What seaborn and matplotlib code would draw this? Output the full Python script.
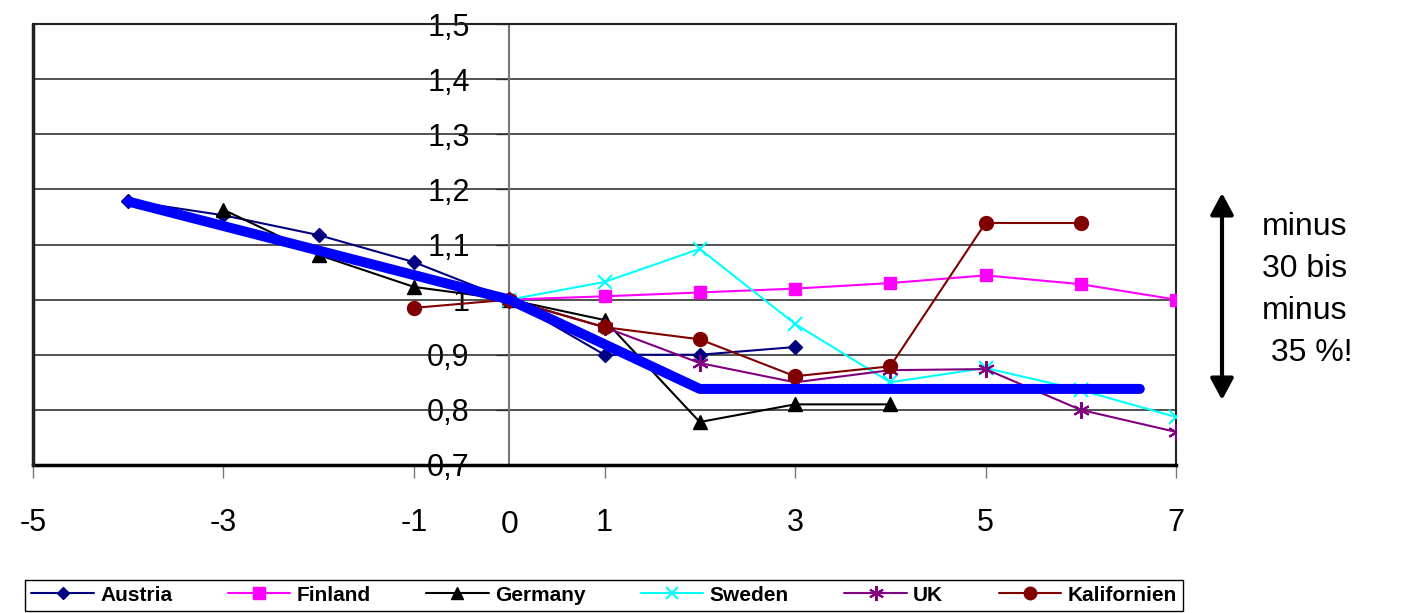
import matplotlib
matplotlib.use('Agg')
import matplotlib.pyplot as plt
import seaborn as sns
import numpy as np
import pandas as pd
from matplotlib.lines import Line2D
from matplotlib.transforms import blended_transform_factory

# ---- data ----
years_austria = [-4, -3, -2, -1, 0, 1, 2, 3]
austria = [1.179, 1.153, 1.117, 1.068, 1.0, 0.900, 0.900, 0.914]
years_finland = [0, 1, 2, 3, 4, 5, 6, 7]
finland = [1.0, 1.006, 1.013, 1.020, 1.030, 1.044, 1.028, 1.0]
years_germany = [-3, -2, -1, 0, 1, 2, 3, 4]
germany = [1.163, 1.081, 1.023, 1.0, 0.963, 0.778, 0.810, 0.810]
years_sweden = [0, 1, 2, 3, 4, 5, 6, 7]
sweden = [1.0, 1.032, 1.092, 0.956, 0.850, 0.876, 0.836, 0.787]
years_uk = [0, 1, 2, 3, 4, 5, 6, 7]
uk = [1.0, 0.950, 0.885, 0.850, 0.872, 0.874, 0.800, 0.760]
years_kal = [-1, 0, 1, 2, 3, 4, 5, 6]
kalifornien = [0.985, 1.0, 0.950, 0.928, 0.861, 0.879, 1.139, 1.139]
trend_x = [-4, 0, 2, 6.62]
trend_y = [1.178, 1.0, 0.838, 0.838]

series_names = ["Austria", "Finland", "Germany", "Sweden", "UK", "Kalifornien"]
x_ticks = [-5, -3, -1, 1, 3, 5, 7]
x_tick_labels = ["-5", "-3", "-1", "1", "3", "5", "7"]
y_ticks = [0.7, 0.8, 0.9, 1.0, 1.1, 1.2, 1.3, 1.4, 1.5]
y_tick_labels = ["0,7", "0,8", "0,9", "1", "1,1", "1,2", "1,3", "1,4", "1,5"]
note_text = "minus\n30 bis\nminus\n 35 %!"

sns.set_theme(style="white")
plt.rcParams['font.family'] = ['Liberation Sans', 'DejaVu Sans']
plt.rcParams['text.color'] = 'black'
plt.rcParams['xtick.color'] = 'black'
plt.rcParams['ytick.color'] = 'black'
plt.rcParams['xtick.labelcolor'] = 'black'
plt.rcParams['ytick.labelcolor'] = 'black'

W, H = 1401, 613
fig = plt.figure(figsize=(W / 100, H / 100), dpi=100)
ax = fig.add_axes([33 / W, 1 - 465 / H, (1176 - 33) / W, (465 - 24) / H])

styles = [
    dict(color="#000080", marker="D", markersize=7),
    dict(color="#FF00FF", marker="s", markersize=9),
    dict(color="#000000", marker="^", markersize=10),
    dict(color="#00FFFF", marker="x", markersize=10, markeredgewidth=1.5),
    dict(color="#800080", marker=(6, 2, 0), markersize=12, markeredgewidth=1.5),
    dict(color="#800000", marker="o", markersize=10),
]
xs = [years_austria, years_finland, years_germany, years_sweden, years_uk, years_kal]
ys = [austria, finland, germany, sweden, uk, kalifornien]

handles = []
for name, x, y, st in zip(series_names, xs, ys, styles):
    sns.lineplot(x=x, y=y, ax=ax, color=st["color"], marker=st["marker"],
                 markersize=st["markersize"], markeredgecolor=st["color"],
                 markeredgewidth=st.get("markeredgewidth", 1.0),
                 linewidth=1.5, legend=False, zorder=3, sort=False)
    handles.append(Line2D([], [], color=st["color"], marker=st["marker"],
                          markersize=st["markersize"] * 0.9,
                          markeredgecolor=st["color"],
                          markeredgewidth=st.get("markeredgewidth", 1.0),
                          linewidth=1.5))

sns.lineplot(x=trend_x, y=trend_y, ax=ax, color="#0000FF", linewidth=7.2,
             legend=False, zorder=4, sort=False)

ax.set_xlim(-5, 7)
ax.set_ylim(0.7, 1.5)

# grid
ax.set_axisbelow(True)
for yv in y_ticks[1:]:
    ax.axhline(yv, color="#222222", linewidth=1.1, zorder=1)

# spines / frame
ax.spines['left'].set_position(('data', 0))
ax.spines['left'].set_color("#777777")
ax.spines['left'].set_linewidth(1.5)
ax.spines['bottom'].set_color("black")
ax.spines['bottom'].set_linewidth(2.5)
for s in ['top', 'right']:
    ax.spines[s].set_visible(True)
    ax.spines[s].set_color("#222222")
    ax.spines[s].set_linewidth(1.5)
ax.axvline(-5, color="#222222", linewidth=2.5, zorder=5, clip_on=False)

ax.set_xticks(x_ticks)
ax.set_xticklabels(x_tick_labels, fontsize=22)
ax.set_yticks(y_ticks)
ax.set_yticklabels(y_tick_labels, fontsize=22)
ax.tick_params(axis='x', direction='out', length=9, width=1, color="#777777",
               bottom=True, pad=22)
ax.tick_params(axis='y', direction='out', length=9.5, width=1, color="#555555",
               left=True, pad=19)
ax.set_xlabel("")
ax.set_ylabel("")

trans = blended_transform_factory(ax.transData, ax.transAxes)
ax.text(0, -0.135, "0", transform=trans, ha='center', va='center', fontsize=23)

# legend
leg = fig.legend(handles, series_names, loc='lower left',
                 bbox_to_anchor=(25 / W, 1 - 611 / H, (1183 - 25) / W, 40 / H),
                 mode='expand', ncol=6,
                 frameon=True, fancybox=False, edgecolor="black", framealpha=1,
                 prop=dict(weight='bold', size=15), handlelength=3.0,
                 handletextpad=0.3, columnspacing=0.7, borderpad=0.3,
                 borderaxespad=0)
leg.get_frame().set_linewidth(1.0)

# annotation arrow + text
ax.annotate('', xy=(1222, H - 193), xytext=(1222, H - 400), xycoords='figure pixels',
            textcoords='figure pixels',
            arrowprops=dict(arrowstyle='<|-|>,head_length=0.65,head_width=0.35',
                            lw=3, color='black', mutation_scale=20,
                            shrinkA=0, shrinkB=0))
fig.text(1262 / W, 1 - 290 / H, note_text, ha='left', va='center', fontsize=23,
         linespacing=1.52)

fig.savefig("out.png", dpi=100)
